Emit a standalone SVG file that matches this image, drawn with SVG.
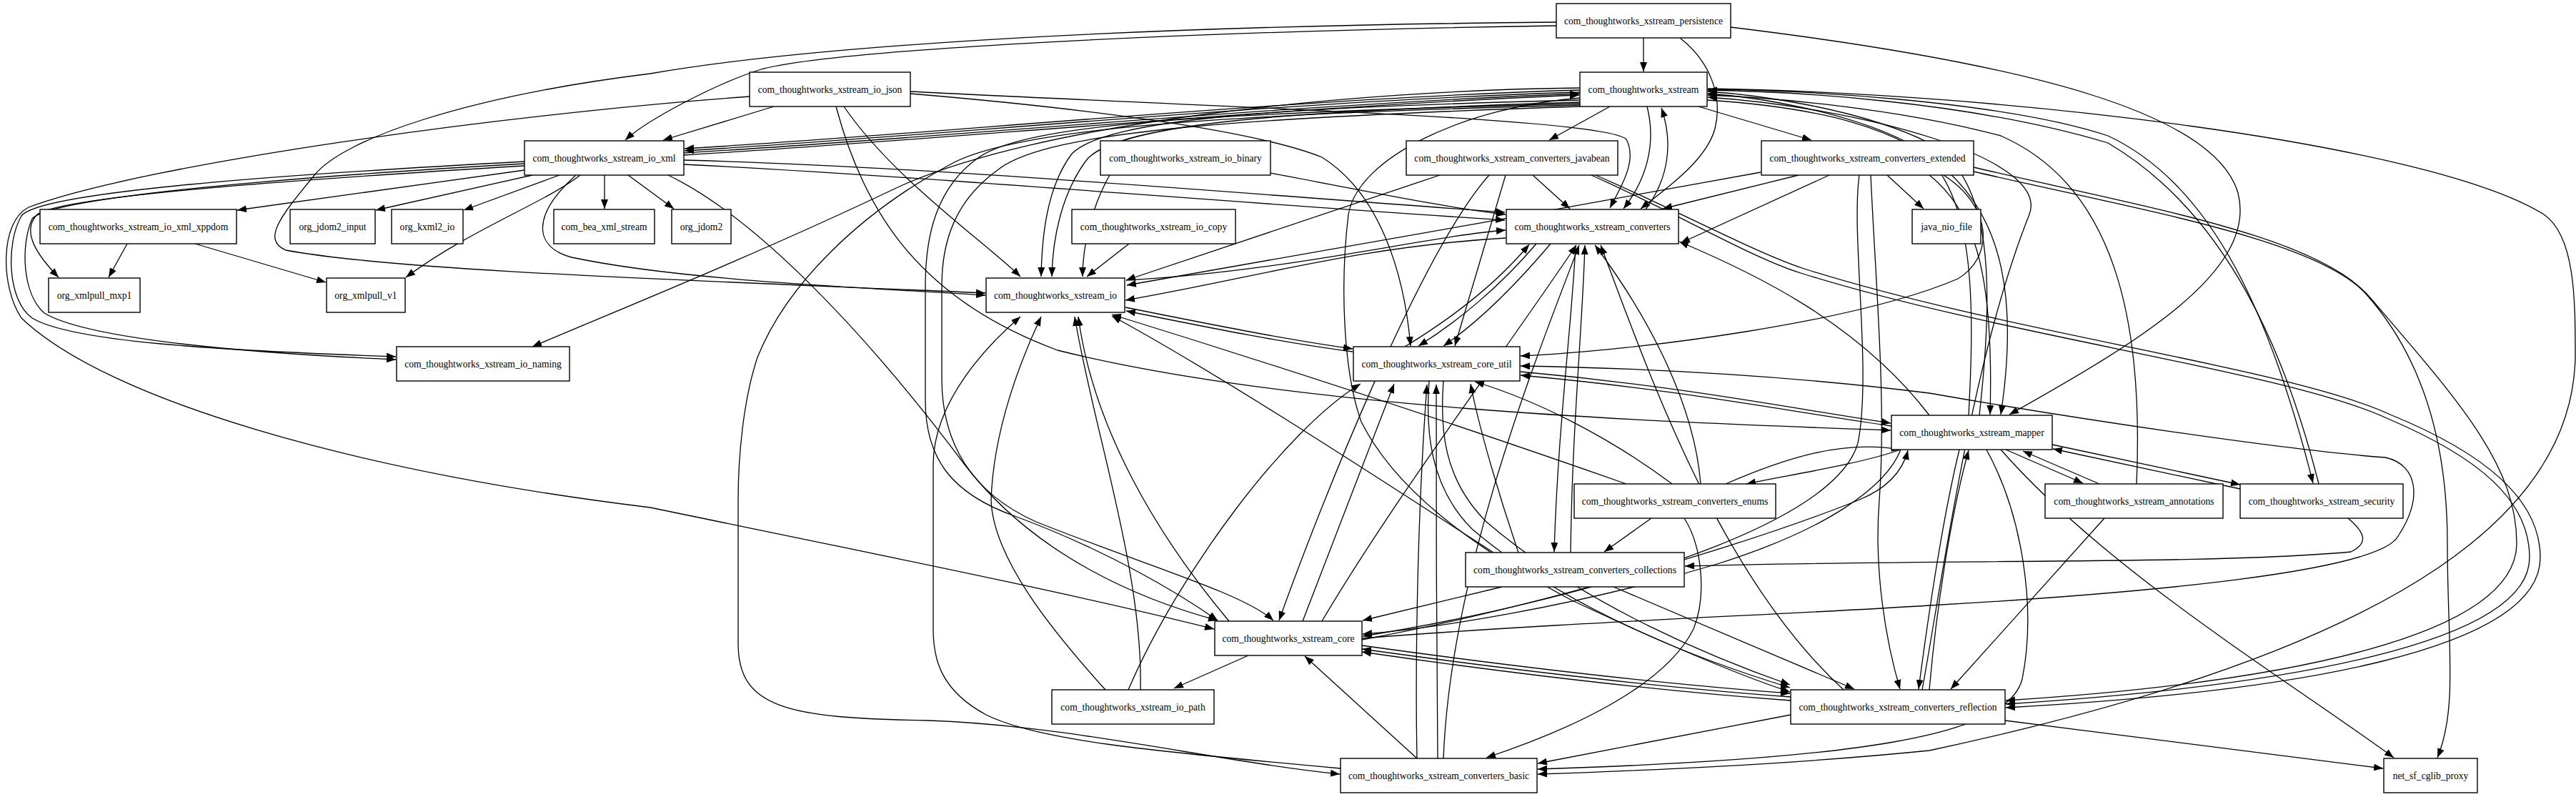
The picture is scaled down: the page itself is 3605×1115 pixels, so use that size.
<svg xmlns="http://www.w3.org/2000/svg" width="3605" height="1115" viewBox="0 0 3605 1115">
<defs>
<marker id="a" markerWidth="14" markerHeight="10" refX="13" refY="5" orient="auto" markerUnits="userSpaceOnUse"><path d="M0,0 L13,5 L0,10 z" fill="#000"/></marker>
<style>
.n rect{fill:#fff;stroke:#000;stroke-width:1.4}
.n text{font-family:"Liberation Serif","Times New Roman",serif;font-size:13.6px;text-anchor:middle;fill:#000}
#edges path{fill:none;stroke:#000;stroke-width:1.3;marker-end:url(#a)}
</style>
</defs>
<rect width="3605" height="1115" fill="#fff"/>
<g id="edges">
<path d="M2300,53 L2300,100"/>
<path d="M2178,36 C1600,45 1150,72 1062,98 C1000,118 905,168 875,196"/>
<path d="M2178,31 C1500,37 1100,70 910,103 C650,135 480,195 440,245 C395,300 365,335 400,350 C560,380 1000,393 1379,410"/>
<path d="M2351,53 C2398,90 2410,140 2400,180 C2388,225 2330,265 2296,292"/>
<path d="M2422,38 C2850,90 3100,160 3132,270 C3160,380 2990,480 2812,580"/>
<path d="M2253,149 L2168,196"/>
<path d="M2377,149 L2535,196"/>
<path d="M2305,149 C2318,200 2305,250 2272,292"/>
<path d="M2303,293 C2335,250 2342,200 2325,151"/>
<path d="M2211,126 C1800,138 1300,188 958,208"/>
<path d="M2211,129 C1800,141 1300,191 958,211"/>
<path d="M957,214 C1300,194 1800,146 2210,131"/>
<path d="M957,217 C1300,197 1800,149 2210,133"/>
<path d="M2211,123 C1900,126 1450,170 1250,265 C1050,360 850,440 745,485"/>
<path d="M2211,140 C1800,150 1550,165 1500,215 C1465,262 1458,330 1457,387"/>
<path d="M2211,143 C1810,155 1570,172 1522,222 C1485,270 1473,335 1472,387"/>
<path d="M2211,147 C1700,160 1420,180 1330,230 C1200,300 1100,400 1060,500 C1040,560 1033,640 1033,700 L1033,900 C1033,990 1100,1005 1300,1008 C1500,1015 1700,1065 1875,1083"/>
<path d="M2211,145 C1700,158 1440,172 1370,220 C1310,262 1295,330 1295,400 L1295,560 C1295,640 1330,690 1420,722 C1550,770 1650,830 1704,868"/>
<path d="M2211,149 C1720,165 1470,185 1400,235 C1335,280 1318,340 1318,400 L1318,530 C1318,620 1360,690 1450,730 C1600,790 1740,830 1782,868"/>
<path d="M1876,1075 C1600,1050 1450,1035 1380,1000 C1315,965 1306,920 1306,880 L1306,650 C1306,560 1385,480 1428,443"/>
<path d="M1083,149 L928,196"/>
<path d="M1181,149 C1250,250 1380,340 1428,387"/>
<path d="M1170,149 C1210,300 1290,420 1480,490 C1800,570 2300,590 2646,602"/>
<path d="M1274,128 C1700,150 2250,165 2276,195 C2292,225 2268,262 2253,291"/>
<path d="M1274,131 C1500,150 1750,180 1850,220 C1930,270 1965,380 1974,484"/>
<path d="M1049,135 C700,160 200,230 40,290 C0,310 0,400 30,445 C150,560 500,660 910,710 C1200,770 1500,830 1699,880"/>
<path d="M734,238 L332,294"/>
<path d="M745,245 L526,294"/>
<path d="M783,245 L649,294"/>
<path d="M846,245 L846,292"/>
<path d="M879,245 L943,292"/>
<path d="M812,245 C760,285 660,320 568,388"/>
<path d="M806,245 C745,300 745,345 800,360 C950,392 1200,402 1379,413"/>
<path d="M734,232 C400,252 85,275 52,300 C28,325 55,360 82,388"/>
<path d="M734,226 C400,244 55,268 30,302 C8,340 10,420 45,445 C100,478 300,490 554,499"/>
<path d="M734,229 C400,248 70,276 45,306 C28,345 32,412 62,438 C115,470 300,492 554,503"/>
<path d="M957,224 C1300,233 1700,268 2106,297"/>
<path d="M957,230 C1300,247 1700,282 2106,308"/>
<path d="M935,245 C1050,300 1200,450 1350,650 C1450,780 1600,840 1704,868"/>
<path d="M178,341 L152,388"/>
<path d="M273,341 L456,395"/>
<path d="M1553,245 C1530,285 1515,340 1515,387"/>
<path d="M1777,242 C1900,265 2020,290 2107,300"/>
<path d="M1580,341 L1521,387"/>
<path d="M2145,245 L2197,292"/>
<path d="M2015,245 C1850,300 1700,350 1576,392"/>
<path d="M2107,245 L2036,484"/>
<path d="M2084,245 C1990,350 1850,700 1790,868"/>
<path d="M2227,245 C2350,300 2450,360 2520,382 C2800,470 3200,520 3340,585 C3470,640 3540,700 3540,780 C3540,900 3200,960 2807,985"/>
<path d="M2233,245 C2355,298 2460,355 2525,376 C2805,465 3205,515 3345,580 C3480,635 3555,700 3555,780 C3555,910 3210,968 2807,990"/>
<path d="M2517,245 L2327,292"/>
<path d="M2560,245 L2352,340"/>
<path d="M2464,241 C2200,290 1800,360 1577,399"/>
<path d="M2641,245 L2692,292"/>
<path d="M2720,245 C2790,290 2790,360 2740,390 C2600,450 2300,490 2128,498"/>
<path d="M2700,245 C2770,300 2790,400 2785,580"/>
<path d="M2602,245 C2590,330 2620,520 2600,620 C2560,760 2100,860 1907,890"/>
<path d="M2618,245 C2625,400 2640,560 2630,700 C2622,800 2640,900 2659,964"/>
<path d="M2762,234 C3000,290 3250,330 3320,420 C3440,560 3522,650 3522,760 C3522,890 3200,955 2807,980"/>
<path d="M2762,240 C3000,295 3240,335 3310,410 C3400,510 3425,640 3425,760 C3425,900 3440,990 3411,1060"/>
<path d="M2389,140 C2700,160 2850,250 2800,580"/>
<path d="M2770,581 C2790,400 2790,250 2700,200 C2600,150 2450,132 2390,128"/>
<path d="M2755,581 C2765,400 2760,260 2680,205 C2590,155 2450,135 2390,131"/>
<path d="M2990,677 C3000,450 2960,260 2800,190 C2650,150 2470,136 2390,133"/>
<path d="M3245,677 C3200,500 3120,300 2950,200 C2750,140 2500,128 2390,126"/>
<path d="M2390,125 C2500,125 2800,140 2950,190 C3100,260 3180,450 3237,676"/>
<path d="M2390,124 C2800,130 3400,200 3560,300 C3604,330 3604,420 3604,500 C3600,700 3400,900 2700,1050 C2500,1070 2300,1078 2152,1083"/>
<path d="M2780,629 C2830,720 2850,850 2830,950 C2810,1030 2600,1062 2152,1076"/>
<path d="M2128,520 C2350,540 2500,570 2646,592"/>
<path d="M2647,596 C2500,575 2350,545 2128,525"/>
<path d="M1575,430 C1700,455 1800,475 1893,488"/>
<path d="M1893,492 C1800,480 1700,460 1576,435"/>
<path d="M2415,677 C2500,640 2580,615 2660,629"/>
<path d="M2660,629 C2600,650 2500,665 2444,677"/>
<path d="M2340,677 C2250,610 2150,560 2064,534"/>
<path d="M2276,677 C2000,580 1750,500 1556,440"/>
<path d="M2380,677 C2370,550 2290,420 2232,343"/>
<path d="M2311,725 L2245,772"/>
<path d="M2357,725 C2380,760 2390,830 2370,880 C2330,960 2200,1020 2080,1060"/>
<path d="M2102,821 L1907,868"/>
<path d="M2258,821 L2595,964"/>
<path d="M2198,773 C2200,600 2215,450 2218,343"/>
<path d="M2205,343 C2200,450 2180,600 2175,772"/>
<path d="M2125,773 C2100,700 2070,600 2058,537"/>
<path d="M2090,773 C1900,650 1700,520 1556,442"/>
<path d="M2211,137 C2050,150 1900,220 1887,300 C1875,400 1880,520 1905,590 C1950,680 2050,760 2200,840 C2350,910 2450,950 2505,968"/>
<path d="M1720,869 C1620,750 1530,600 1509,443"/>
<path d="M1850,869 C1950,700 2100,500 2206,343"/>
<path d="M1823,869 L1951,537"/>
<path d="M1747,917 L1643,963"/>
<path d="M1906,903 C2100,930 2300,955 2505,970"/>
<path d="M2506,975 C2300,960 2100,935 1906,908"/>
<path d="M2506,980 C2300,965 2100,940 1906,912"/>
<path d="M1906,895 C2150,850 2450,760 2600,700 C2650,680 2665,650 2670,630"/>
<path d="M2660,629 C2640,680 2560,740 2400,790 C2200,850 2000,880 1907,887"/>
<path d="M1596,965 C1600,800 1530,600 1504,443"/>
<path d="M1547,965 C1470,880 1390,780 1387,700 C1390,600 1430,500 1457,443"/>
<path d="M1579,965 C1650,800 1800,600 1904,537"/>
<path d="M1983,1061 L1826,918"/>
<path d="M1983,1061 C1980,900 1985,700 1997,538"/>
<path d="M2012,1061 C2010,900 2010,700 2010,538"/>
<path d="M2020,1061 C2030,800 2150,500 2210,343"/>
<path d="M2580,965 C2400,800 2300,500 2240,343"/>
<path d="M2000,533 C1995,600 2000,680 2060,740 C2200,860 2400,930 2505,962"/>
<path d="M2020,533 C2015,600 2020,670 2080,730 C2220,850 2410,925 2505,958"/>
<path d="M2690,965 C2720,800 2760,500 2840,300 C2870,220 2600,150 2390,136"/>
<path d="M2700,965 C2710,850 2730,720 2755,630"/>
<path d="M2742,629 C2720,720 2700,850 2685,964"/>
<path d="M2506,1000 L2152,1068"/>
<path d="M2806,1008 L3335,1075"/>
<path d="M2800,629 C2950,800 3200,950 3350,1060"/>
<path d="M2945,725 L2730,964"/>
<path d="M2938,677 L2831,631"/>
<path d="M2807,629 L2915,676"/>
<path d="M2872,622 L3135,678"/>
<path d="M3135,684 L2873,628"/>
<path d="M1906,893 C2200,870 2500,860 2700,847 C3000,830 3330,800 3356,750 C3390,700 3385,650 3338,640 C3200,630 2900,585 2700,550 C2500,525 2300,515 2128,512"/>
<path d="M3286,725 C3310,745 3315,760 3290,772 C3100,790 2700,782 2358,792"/>
<path d="M1576,392 C1800,380 2000,330 2107,322"/>
<path d="M2107,333 C1900,345 1750,390 1575,420"/>
<path d="M2700,581 C2600,450 2450,380 2350,338"/>
<path d="M2150,341 C2100,400 2040,450 1985,484"/>
<path d="M1966,485 C2040,440 2100,390 2140,342"/>
<path d="M2170,341 C2120,400 2070,450 2020,484"/>
</g>
<g id="n_persistence" class="n"><rect x="2178" y="5" width="244" height="48"/><text x="2300" y="33.5">com_thoughtworks_xstream_persistence</text></g>
<g id="n_xstream" class="n"><rect x="2211" y="101" width="178" height="48"/><text x="2300" y="129.5">com_thoughtworks_xstream</text></g>
<g id="n_io_json" class="n"><rect x="1049" y="101" width="225" height="48"/><text x="1161.5" y="129.5">com_thoughtworks_xstream_io_json</text></g>
<g id="n_io_xml" class="n"><rect x="734" y="197" width="223" height="48"/><text x="845.5" y="225.5">com_thoughtworks_xstream_io_xml</text></g>
<g id="n_io_binary" class="n"><rect x="1540" y="197" width="238" height="48"/><text x="1659" y="225.5">com_thoughtworks_xstream_io_binary</text></g>
<g id="n_javabean" class="n"><rect x="1968" y="197" width="296" height="48"/><text x="2116" y="225.5">com_thoughtworks_xstream_converters_javabean</text></g>
<g id="n_extended" class="n"><rect x="2465" y="197" width="297" height="48"/><text x="2613.5" y="225.5">com_thoughtworks_xstream_converters_extended</text></g>
<g id="n_xppdom" class="n"><rect x="56" y="293" width="275" height="48"/><text x="193.5" y="321.5">com_thoughtworks_xstream_io_xml_xppdom</text></g>
<g id="n_jdom2_input" class="n"><rect x="406" y="293" width="119" height="48"/><text x="465.5" y="321.5">org_jdom2_input</text></g>
<g id="n_kxml2_io" class="n"><rect x="548" y="293" width="100" height="48"/><text x="598" y="321.5">org_kxml2_io</text></g>
<g id="n_bea" class="n"><rect x="775" y="293" width="141" height="48"/><text x="845.5" y="321.5">com_bea_xml_stream</text></g>
<g id="n_jdom2" class="n"><rect x="940" y="293" width="83" height="48"/><text x="981.5" y="321.5">org_jdom2</text></g>
<g id="n_io_copy" class="n"><rect x="1500" y="293" width="229" height="48"/><text x="1614.5" y="321.5">com_thoughtworks_xstream_io_copy</text></g>
<g id="n_converters" class="n"><rect x="2108" y="293" width="241" height="48"/><text x="2228.5" y="321.5">com_thoughtworks_xstream_converters</text></g>
<g id="n_nio_file" class="n"><rect x="2676" y="293" width="96" height="48"/><text x="2724" y="321.5">java_nio_file</text></g>
<g id="n_mxp1" class="n"><rect x="68" y="389" width="128" height="48"/><text x="132" y="417.5">org_xmlpull_mxp1</text></g>
<g id="n_xmlpull_v1" class="n"><rect x="457" y="389" width="110" height="48"/><text x="512" y="417.5">org_xmlpull_v1</text></g>
<g id="n_io" class="n"><rect x="1380" y="389" width="194" height="48"/><text x="1477" y="417.5">com_thoughtworks_xstream_io</text></g>
<g id="n_io_naming" class="n"><rect x="555" y="485" width="242" height="48"/><text x="676" y="513.5">com_thoughtworks_xstream_io_naming</text></g>
<g id="n_core_util" class="n"><rect x="1894" y="485" width="233" height="48"/><text x="2010.5" y="513.5">com_thoughtworks_xstream_core_util</text></g>
<g id="n_mapper" class="n"><rect x="2647" y="581" width="225" height="48"/><text x="2759.5" y="609.5">com_thoughtworks_xstream_mapper</text></g>
<g id="n_enums" class="n"><rect x="2203" y="677" width="282" height="48"/><text x="2344" y="705.5">com_thoughtworks_xstream_converters_enums</text></g>
<g id="n_annotations" class="n"><rect x="2862" y="677" width="249" height="48"/><text x="2986.5" y="705.5">com_thoughtworks_xstream_annotations</text></g>
<g id="n_security" class="n"><rect x="3135" y="677" width="228" height="48"/><text x="3249" y="705.5">com_thoughtworks_xstream_security</text></g>
<g id="n_collections" class="n"><rect x="2051" y="773" width="306" height="48"/><text x="2204" y="801.5">com_thoughtworks_xstream_converters_collections</text></g>
<g id="n_core" class="n"><rect x="1700" y="869" width="206" height="48"/><text x="1803" y="897.5">com_thoughtworks_xstream_core</text></g>
<g id="n_io_path" class="n"><rect x="1472" y="965" width="227" height="48"/><text x="1585.5" y="993.5">com_thoughtworks_xstream_io_path</text></g>
<g id="n_reflection" class="n"><rect x="2506" y="965" width="300" height="48"/><text x="2656" y="993.5">com_thoughtworks_xstream_converters_reflection</text></g>
<g id="n_basic" class="n"><rect x="1876" y="1061" width="275" height="48"/><text x="2013.5" y="1089.5">com_thoughtworks_xstream_converters_basic</text></g>
<g id="n_cglib" class="n"><rect x="3336" y="1061" width="131" height="48"/><text x="3401.5" y="1089.5">net_sf_cglib_proxy</text></g>
</svg>
